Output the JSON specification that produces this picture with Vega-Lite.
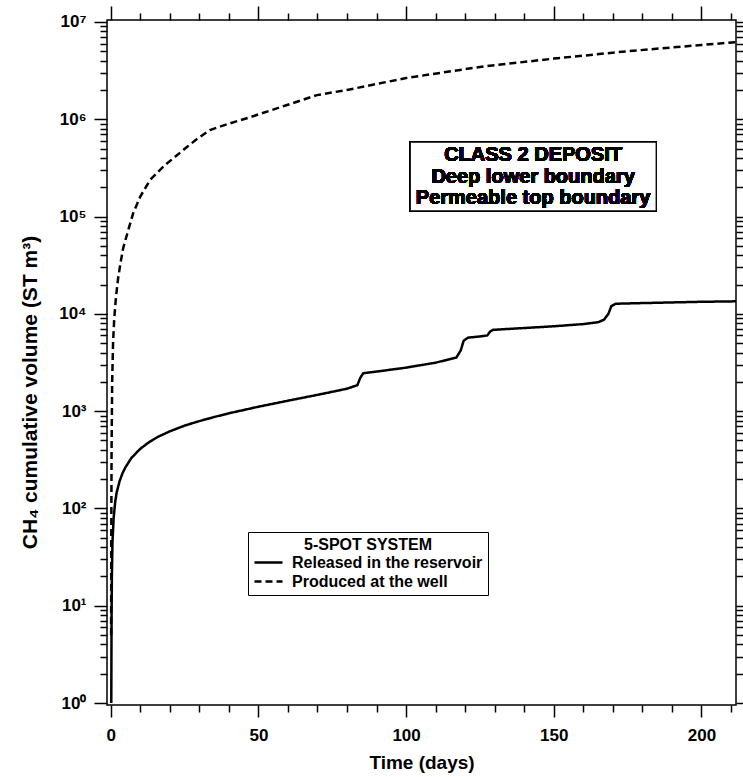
{
  "$schema": "https://vega.github.io/schema/vega-lite/v6.json",
  "width": 629,
  "height": 685,
  "autosize": {"type": "none"},
  "padding": {"left": 107, "top": 20, "right": 7, "bottom": 72},
  "background": "white",
  "config": {
    "view": {"stroke": "black", "strokeWidth": 1.5, "fill": "white"},
    "font": "Liberation Sans",
    "axis": {"domain": false, "grid": false, "tickColor": "black", "tickWidth": 1.5, "labelColor": "black", "titleColor": "black", "labelFont": "Liberation Sans", "titleFont": "Liberation Sans", "labelFontWeight": "bold", "titleFontWeight": "bold"}
  },
  "data": {
    "values": [
      {"t": 0.2, "v": 1, "s": "Released in the reservoir"},
      {"t": 0.25, "v": 3, "s": "Released in the reservoir"},
      {"t": 0.3, "v": 8, "s": "Released in the reservoir"},
      {"t": 0.4, "v": 20, "s": "Released in the reservoir"},
      {"t": 0.6, "v": 45, "s": "Released in the reservoir"},
      {"t": 1, "v": 80, "s": "Released in the reservoir"},
      {"t": 1.5, "v": 115, "s": "Released in the reservoir"},
      {"t": 2, "v": 145, "s": "Released in the reservoir"},
      {"t": 3, "v": 190, "s": "Released in the reservoir"},
      {"t": 4, "v": 230, "s": "Released in the reservoir"},
      {"t": 5, "v": 265, "s": "Released in the reservoir"},
      {"t": 7, "v": 330, "s": "Released in the reservoir"},
      {"t": 10, "v": 410, "s": "Released in the reservoir"},
      {"t": 13, "v": 480, "s": "Released in the reservoir"},
      {"t": 16, "v": 545, "s": "Released in the reservoir"},
      {"t": 20, "v": 620, "s": "Released in the reservoir"},
      {"t": 25, "v": 710, "s": "Released in the reservoir"},
      {"t": 30, "v": 790, "s": "Released in the reservoir"},
      {"t": 35, "v": 870, "s": "Released in the reservoir"},
      {"t": 40, "v": 950, "s": "Released in the reservoir"},
      {"t": 50, "v": 1110, "s": "Released in the reservoir"},
      {"t": 60, "v": 1280, "s": "Released in the reservoir"},
      {"t": 70, "v": 1470, "s": "Released in the reservoir"},
      {"t": 80, "v": 1700, "s": "Released in the reservoir"},
      {"t": 83.5, "v": 1850, "s": "Released in the reservoir"},
      {"t": 84.5, "v": 2200, "s": "Released in the reservoir"},
      {"t": 85.5, "v": 2450, "s": "Released in the reservoir"},
      {"t": 90, "v": 2550, "s": "Released in the reservoir"},
      {"t": 100, "v": 2800, "s": "Released in the reservoir"},
      {"t": 110, "v": 3150, "s": "Released in the reservoir"},
      {"t": 117, "v": 3550, "s": "Released in the reservoir"},
      {"t": 118.5, "v": 4200, "s": "Released in the reservoir"},
      {"t": 119.5, "v": 5300, "s": "Released in the reservoir"},
      {"t": 121, "v": 5700, "s": "Released in the reservoir"},
      {"t": 125, "v": 5850, "s": "Released in the reservoir"},
      {"t": 127.5, "v": 6000, "s": "Released in the reservoir"},
      {"t": 128.5, "v": 6600, "s": "Released in the reservoir"},
      {"t": 129.5, "v": 6850, "s": "Released in the reservoir"},
      {"t": 140, "v": 7150, "s": "Released in the reservoir"},
      {"t": 150, "v": 7450, "s": "Released in the reservoir"},
      {"t": 160, "v": 7850, "s": "Released in the reservoir"},
      {"t": 165, "v": 8200, "s": "Released in the reservoir"},
      {"t": 167, "v": 8700, "s": "Released in the reservoir"},
      {"t": 168.5, "v": 10000, "s": "Released in the reservoir"},
      {"t": 169.5, "v": 12000, "s": "Released in the reservoir"},
      {"t": 171, "v": 12700, "s": "Released in the reservoir"},
      {"t": 180, "v": 12900, "s": "Released in the reservoir"},
      {"t": 190, "v": 13100, "s": "Released in the reservoir"},
      {"t": 200, "v": 13300, "s": "Released in the reservoir"},
      {"t": 211.7, "v": 13450, "s": "Released in the reservoir"},
      {"t": 0.15, "v": 5, "s": "Produced at the well"},
      {"t": 0.2, "v": 50, "s": "Produced at the well"},
      {"t": 0.3, "v": 400, "s": "Produced at the well"},
      {"t": 0.5, "v": 2000, "s": "Produced at the well"},
      {"t": 0.8, "v": 5000, "s": "Produced at the well"},
      {"t": 1.2, "v": 9000, "s": "Produced at the well"},
      {"t": 1.8, "v": 15000, "s": "Produced at the well"},
      {"t": 2.5, "v": 23000, "s": "Produced at the well"},
      {"t": 3.3, "v": 33000, "s": "Produced at the well"},
      {"t": 4.2, "v": 47000, "s": "Produced at the well"},
      {"t": 5.5, "v": 65000, "s": "Produced at the well"},
      {"t": 7.6, "v": 108000, "s": "Produced at the well"},
      {"t": 10, "v": 160000, "s": "Produced at the well"},
      {"t": 13.3, "v": 237000, "s": "Produced at the well"},
      {"t": 18, "v": 330000, "s": "Produced at the well"},
      {"t": 25.8, "v": 518000, "s": "Produced at the well"},
      {"t": 29, "v": 620000, "s": "Produced at the well"},
      {"t": 33.6, "v": 775000, "s": "Produced at the well"},
      {"t": 40, "v": 900000, "s": "Produced at the well"},
      {"t": 47.2, "v": 1050000, "s": "Produced at the well"},
      {"t": 59.7, "v": 1400000, "s": "Produced at the well"},
      {"t": 69.8, "v": 1770000, "s": "Produced at the well"},
      {"t": 80, "v": 2000000, "s": "Produced at the well"},
      {"t": 100, "v": 2650000, "s": "Produced at the well"},
      {"t": 125, "v": 3450000, "s": "Produced at the well"},
      {"t": 150, "v": 4200000, "s": "Produced at the well"},
      {"t": 175, "v": 5000000, "s": "Produced at the well"},
      {"t": 200, "v": 5800000, "s": "Produced at the well"},
      {"t": 211.7, "v": 6200000, "s": "Produced at the well"}
    ]
  },
  "resolve": {"axis": {"x": "independent", "y": "independent"}},
  "layer": [
    {
      "mark": {"type": "line", "color": "black", "strokeWidth": 2.5, "clip": true},
      "encoding": {
        "x": {"field": "t", "type": "quantitative", "scale": {"domain": [-1.25, 211.7], "nice": false, "zero": false},
          "axis": {"orient": "bottom", "values": [0, 50, 100, 150, 200], "tickSize": 12, "labelFontSize": 17, "labelPadding": 10, "title": "Time (days)", "titleFontSize": 19, "titlePadding": 10}},
        "y": {"field": "v", "type": "quantitative", "scale": {"type": "log", "domain": [0.955, 10470000], "nice": false, "zero": false},
          "axis": {"orient": "left", "values": [1, 10, 100, 1000, 10000, 100000, 1000000, 10000000], "tickSize": 13, "labelFontSize": 17, "labelPadding": 8,
            "labelExpr": "'10' + ['⁰','¹','²','³','⁴','⁵','⁶','⁷'][round(log(datum.value)/LN10)]",
            "title": "CH₄ cumulative volume (ST m³)", "titleFontSize": 21, "titlePadding": 18, "titleY": 372}},
        "strokeDash": {"field": "s", "type": "nominal",
          "scale": {"domain": ["Released in the reservoir", "Produced at the well"], "range": [[1, 0], [7, 4]]},
          "legend": {"title": "5-SPOT SYSTEM", "orient": "none", "legendX": 141, "legendY": 512, "titleAnchor": "middle",
            "titleFont": "Liberation Sans", "titleFontSize": 16, "titleFontWeight": "bold", "titleColor": "black", "titlePadding": 1,
            "labelFont": "Liberation Sans", "labelFontSize": 16, "labelFontWeight": "bold", "labelColor": "black", "labelOffset": 22, "labelLimit": 400,
            "strokeColor": "black", "fillColor": "white", "padding": 5, "rowPadding": 2,
            "symbolType": "M-1,0H3", "symbolSize": 196, "symbolStrokeWidth": 2.5, "symbolStrokeColor": "black", "symbolFillColor": "transparent"}}
      }
    },
    {
      "mark": {"type": "point", "opacity": 0},
      "encoding": {
        "x": {"field": "t", "type": "quantitative", "axis": {"orient": "bottom", "values": [10, 20, 30, 40, 60, 70, 80, 90, 110, 120, 130, 140, 160, 170, 180, 190, 210], "tickSize": 7, "labels": false, "title": null}},
        "y": {"field": "v", "type": "quantitative", "axis": {"orient": "left", "values": [2,3,4,5,6,7,8,9,20,30,40,50,60,70,80,90,200,300,400,500,600,700,800,900,2000,3000,4000,5000,6000,7000,8000,9000,20000,30000,40000,50000,60000,70000,80000,90000,200000,300000,400000,500000,600000,700000,800000,900000,2000000,3000000,4000000,5000000,6000000,7000000,8000000,9000000], "tickSize": 7, "labels": false, "title": null}}
      }
    },
    {
      "mark": {"type": "point", "opacity": 0},
      "encoding": {
        "x": {"field": "t", "type": "quantitative", "axis": {"orient": "top", "values": [0, 50, 100, 150, 200], "tickSize": 14, "labels": false, "title": null}},
        "y": {"field": "v", "type": "quantitative", "axis": {"orient": "right", "values": [1, 10, 100, 1000, 10000, 100000, 1000000, 10000000], "tickSize": 9, "labels": false, "title": null}}
      }
    },
    {
      "mark": {"type": "point", "opacity": 0},
      "encoding": {
        "x": {"field": "t", "type": "quantitative", "axis": {"orient": "top", "values": [10, 20, 30, 40, 60, 70, 80, 90, 110, 120, 130, 140, 160, 170, 180, 190, 210], "tickSize": 7, "labels": false, "title": null}},
        "y": {"field": "v", "type": "quantitative", "axis": {"orient": "right", "values": [2,3,4,5,6,7,8,9,20,30,40,50,60,70,80,90,200,300,400,500,600,700,800,900,2000,3000,4000,5000,6000,7000,8000,9000,20000,30000,40000,50000,60000,70000,80000,90000,200000,300000,400000,500000,600000,700000,800000,900000,2000000,3000000,4000000,5000000,6000000,7000000,8000000,9000000], "tickSize": 7, "labels": false, "title": null}}
      }
    },
    {
      "mark": {"type": "rect", "fill": "white", "stroke": "black", "strokeWidth": 1.3},
      "encoding": {
        "x": {"datum": 101.4, "type": "quantitative", "axis": null},
        "x2": {"datum": 184.7},
        "y": {"datum": 583000, "type": "quantitative", "axis": null},
        "y2": {"datum": 114000}
      }
    },
    {
      "mark": {"type": "text", "text": ["CLASS 2 DEPOSIT", "Deep lower boundary", "Permeable top boundary"], "font": "Liberation Sans", "fontWeight": "bold", "fontSize": 20, "lineHeight": 21.5, "align": "center", "baseline": "middle", "color": "black"},
      "encoding": {
        "x": {"datum": 143, "type": "quantitative", "axis": null},
        "y": {"datum": 428000, "type": "quantitative", "axis": null}
      }
    }
  ]
}
